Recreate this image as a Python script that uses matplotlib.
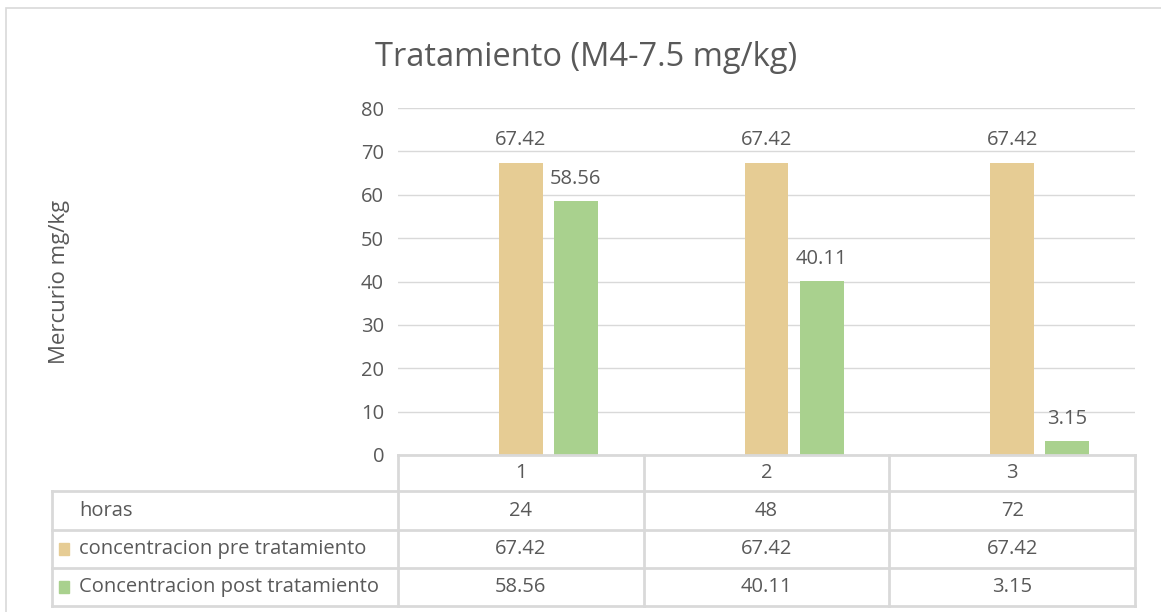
import numpy as np
import matplotlib.pyplot as plt
from matplotlib.patches import Rectangle
from matplotlib.lines import Line2D

plt.rcParams["font.family"] = ["Open Sans", "DejaVu Sans"]

categories = ["1", "2", "3"]
horas = [24, 48, 72]
pre = [67.42, 67.42, 67.42]
post = [58.56, 40.11, 3.15]
row_labels = ["horas", "concentracion pre tratamiento", "Concentracion post tratamiento"]

TXT = "#595959"
GRID = "#d9d9d9"
C_PRE = "#e6cc94"
C_POST = "#a9d18e"
FS = 14.5

W, H = 1161, 612
fig = plt.figure(figsize=(W / 100, H / 100), dpi=100)


def fx(px):
    return px / W


def fy(py):
    return 1 - py / H


# outer chart border
fig.add_artist(Rectangle((fx(6), fy(640)), fx(1180), fy(8) - fy(640), transform=fig.transFigure,
                         fill=False, edgecolor=GRID, lw=1.2))

x0, x1, y_top, y_bot = 398, 1135, 108, 455
ax = fig.add_axes([fx(x0), fy(y_bot), fx(x1 - x0), fy(y_top) - fy(y_bot)])
x = np.arange(len(categories))
bw = 0.179
off = 0.224
ax.bar(x, pre, width=bw, color=C_PRE, zorder=3)
ax.bar(x + off, post, width=bw, color=C_POST, zorder=3)
for xi, v in zip(x, pre):
    ax.text(xi, v + 2.8, f"{v:.2f}", ha="center", va="bottom", color=TXT, fontsize=FS)
for xi, v in zip(x, post):
    ax.text(xi + off, v + 2.8, f"{v:.2f}", ha="center", va="bottom", color=TXT, fontsize=FS)

ax.set_xlim(-0.5, 2.5)
ax.set_ylim(0, 80)
ax.set_yticks(range(0, 81, 10))
ax.set_xticks([])
ax.tick_params(axis="y", length=0, labelsize=FS, labelcolor=TXT, pad=10)
ax.grid(True, axis="y", color=GRID, lw=1, zorder=0)
for s in ax.spines.values():
    s.set_visible(False)
ax.set_facecolor("none")

fig.text(fx(586), fy(57), "Tratamiento (M4-7.5 mg/kg)", ha="center", va="center",
         fontsize=23.5, color=TXT)
fig.text(fx(60), fy(282), "Mercurio mg/kg", ha="center", va="center", rotation=90,
         fontsize=16, color=TXT)

# data table
rows_y = [455, 491, 530, 568, 606]
cols_x = [x0 + (x1 - x0) * i / 3 for i in range(4)]
lab_x = 52
tk = dict(color=GRID, lw=2, transform=fig.transFigure)
fig.add_artist(Line2D([fx(x0), fx(x1)], [fy(rows_y[0])] * 2, **tk))
for ry in rows_y[1:]:
    fig.add_artist(Line2D([fx(lab_x), fx(x1)], [fy(ry)] * 2, **tk))
fig.add_artist(Line2D([fx(lab_x)] * 2, [fy(rows_y[1]), fy(rows_y[-1])], **tk))
for cx in cols_x:
    fig.add_artist(Line2D([fx(cx)] * 2, [fy(rows_y[0]), fy(rows_y[-1])], **tk))

table_rows = [categories, [str(h) for h in horas], [f"{v:.2f}" for v in pre], [f"{v:.2f}" for v in post]]
for r, vals in enumerate(table_rows):
    cy = (rows_y[r] + rows_y[r + 1]) / 2
    for c, val in enumerate(vals):
        cx = (cols_x[c] + cols_x[c + 1]) / 2
        fig.text(fx(cx), fy(cy), val, ha="center", va="center", fontsize=FS, color=TXT)

for r, lab in enumerate(row_labels):
    cy = (rows_y[r + 1] + rows_y[r + 2]) / 2
    fig.text(fx(79), fy(cy), lab, ha="left", va="center", fontsize=FS, color=TXT)
    if r > 0:
        col = C_PRE if r == 1 else C_POST
        fig.add_artist(Rectangle((fx(59), fy(cy + 6)), fx(10), fy(cy - 6) - fy(cy + 6),
                                 transform=fig.transFigure, color=col))

fig.savefig("out.png", dpi=100, facecolor="white")
